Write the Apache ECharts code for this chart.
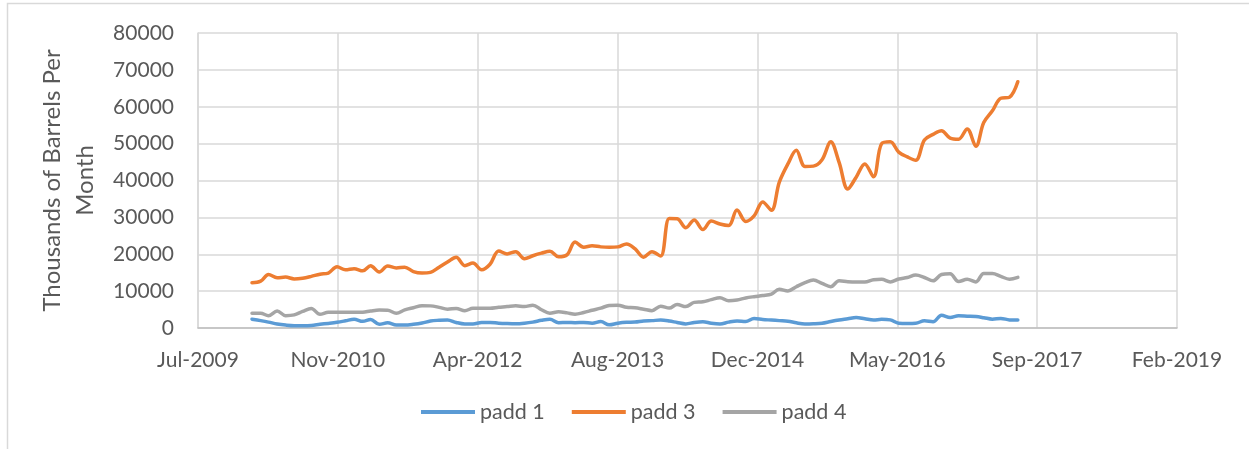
<!DOCTYPE html>
<html>
<head>
<meta charset="utf-8">
<script src="https://cdn.jsdelivr.net/npm/echarts@6/dist/echarts.min.js"></script>
<style>
  html, body { margin: 0; padding: 0; background: #fff; }
  #chart { width: 1249px; height: 449px; }
</style>
</head>
<body>
<div id="chart"></div>
<script>
// monthly data, Jan 2010 .. Jul 2017 (thousands of barrels per month)
const startYear = 2010;
const monthCount = 91;

const padd1 = [
  2400, 2000, 1600, 1100, 800, 630, 630, 700, 1000, 1250, 1550, 1950,
  2400, 1800, 2300, 1000, 1400, 800, 800, 1000, 1350, 1900, 2100, 2200,
  1500, 1100, 1100, 1500, 1500, 1300, 1200, 1150, 1300, 1600, 2100, 2400,
  1450, 1500, 1450, 1500, 1300, 1750, 850, 1300, 1550, 1600, 1900, 2000,
  2150, 1900, 1500, 1100, 1500, 1700, 1300, 1100, 1600, 1900, 1750, 2550,
  2300, 2150, 2000, 1850, 1400, 1100, 1150, 1300, 1750, 2150, 2500, 2850,
  2500, 2150, 2350, 2200, 1300, 1250, 1300, 1950, 1700, 3450, 2850, 3300,
  3200, 3100, 2800, 2400, 2600, 2200, 2150
];

const padd3 = [
  12300, 12700, 14500, 13650, 13800, 13300, 13500, 14000, 14600, 14900, 16600, 15800,
  16100, 15500, 16900, 15200, 16800, 16300, 16500, 15300, 14900, 15100, 16500, 17900,
  19200, 16900, 17600, 15800, 17300, 20900, 20100, 20700, 18800, 19600, 20300, 20800,
  19300, 19900, 23300, 21900, 22300, 22000, 21900, 22000, 22800, 21500, 19200, 20700,
  19500, 29700, 29600, 27200, 29300, 26700, 29000, 28200, 27800, 32000, 28900, 30400,
  34200, 31900, 39500, 44500, 48200, 43800, 43900, 45600, 50500, 44900, 37700, 40900,
  44500, 41000, 50000, 50500, 47700, 46400, 45500, 51000, 52500, 53500, 51500, 51200,
  54000, 49300, 55700, 58900, 62300, 62600, 66800
];

const padd4 = [
  4000, 4000, 3350, 4600, 3350, 3550, 4500, 5300, 3700, 4250, 4250, 4250,
  4250, 4300, 4600, 4850, 4800, 4000, 4900, 5500, 6050, 6000, 5600, 5100,
  5300, 4700, 5350, 5350, 5350, 5600, 5800, 6050, 5800, 6200, 4950, 4000,
  4400, 4100, 3750, 4200, 4800, 5400, 6100, 6200, 5600, 5500, 5100, 4700,
  5900, 5400, 6400, 5800, 6950, 7100, 7700, 8200, 7400, 7600, 8150, 8500,
  8800, 9200, 10500, 10050, 11200, 12300, 13000, 12100, 11200, 12800, 12550, 12450,
  12450, 13100, 13200, 12500, 13300, 13700, 14350, 13700, 12800, 14500, 14700, 12600,
  13200, 12500, 14800, 14800, 14000, 13250, 13750
];

const seriesNames = ["padd 1", "padd 3", "padd 4"];
const colors = ["#5B9BD5", "#ED7D31", "#A5A5A5"];
const monthNames = ["Jan", "Feb", "Mar", "Apr", "May", "Jun", "Jul", "Aug", "Sep", "Oct", "Nov", "Dec"];

// x axis uses spreadsheet day serials (days since 1899-12-30)
const EPOCH = Date.UTC(1899, 11, 30);
const DAY = 86400000;
function toSerial(y, m, d) {
  return (Date.UTC(y, m, d) - EPOCH) / DAY;
}
function serialLabel(v) {
  const d = new Date(EPOCH + v * DAY);
  return monthNames[d.getUTCMonth()] + "-" + d.getUTCFullYear();
}

const dates = [];
for (let i = 0; i < monthCount; i++) {
  dates.push(toSerial(startYear + Math.floor(i / 12), i % 12, 15));
}

const textColor = "#595959";
const font = "Lato";

const chart = echarts.init(document.getElementById("chart"));
chart.setOption({
  animation: false,
  backgroundColor: "#fff",
  color: colors,
  textStyle: { fontFamily: font },
  graphic: [
    {
      type: "rect",
      shape: { x: 7.5, y: 3.5, width: 1400, height: 600 },
      style: { fill: "none", stroke: "#d9d9d9", lineWidth: 1.5 },
      silent: true,
    },
  ],
  grid: { left: 198, top: 33, right: 72, bottom: 121, containLabel: false },
  legend: {
    bottom: 21,
    left: 416,
    icon: "rect",
    itemWidth: 54,
    itemHeight: 4,
    itemGap: 27,
    textStyle: { color: textColor, fontSize: 21.5, fontFamily: font },
    data: seriesNames,
  },
  xAxis: {
    type: "value",
    min: 40000,
    max: 43500,
    interval: 500,
    axisLabel: {
      formatter: serialLabel,
      color: textColor,
      fontSize: 21,
      fontFamily: font,
      margin: 22,
    },
    axisLine: { lineStyle: { color: "#bfbfbf", width: 1.5 } },
    axisTick: { show: false },
    splitLine: { show: true, lineStyle: { color: "#d9d9d9", width: 1.5 } },
  },
  yAxis: {
    type: "value",
    min: 0,
    max: 80000,
    interval: 10000,
    name: "Thousands of Barrels Per\nMonth",
    nameLocation: "middle",
    nameGap: 85,
    nameTextStyle: { color: textColor, fontSize: 24, fontFamily: font, lineHeight: 33, align: "center" },
    axisLabel: {
      formatter: (v) => String(v),
      color: textColor,
      fontSize: 21,
      fontFamily: font,
      margin: 24,
    },
    axisLine: { show: true, lineStyle: { color: "#d9d9d9", width: 1.5 } },
    axisTick: { show: false },
    splitLine: { lineStyle: { color: "#d9d9d9", width: 1.5 } },
  },
  series: [padd1, padd3, padd4].map((vals, k) => ({
    name: seriesNames[k],
    type: "line",
    data: vals.map((v, i) => [dates[i], v]),
    smooth: 0.35,
    symbol: "none",
    lineStyle: { width: 3.5, color: colors[k], cap: "round", join: "round" },
  })),
});
</script>
</body>
</html>
